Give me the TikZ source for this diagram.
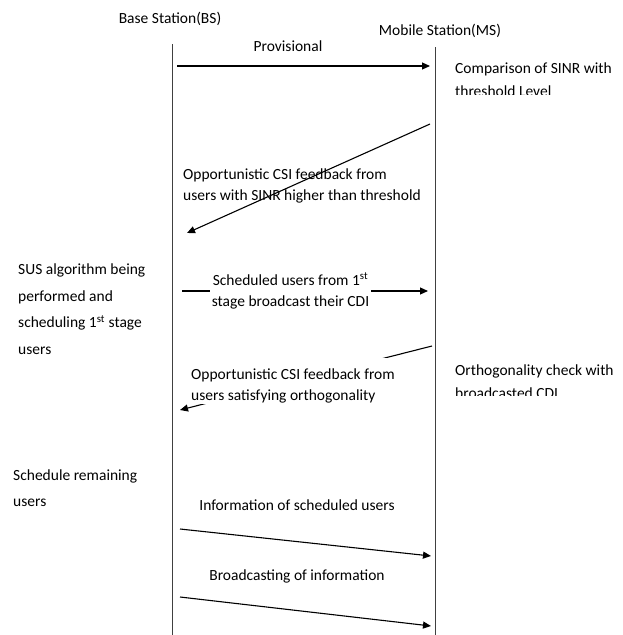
\documentclass[tikz,border=0pt]{standalone}
\usepackage{fontspec}
\setmainfont{Carlito}
\usetikzlibrary{arrows.meta}
\begin{document}
\begin{tikzpicture}[x=1pt,y=-1pt,
  lbl/.style={font=\fontsize{15.5}{21}\selectfont, inner sep=0pt, align=left},
  wide/.style={font=\fontsize{15.5}{23}\selectfont},
  life/.style={line width=0.9pt, black!75},
  msg/.style={line width=1.1pt, -{Triangle[length=8pt,width=7pt]}},
]
\useasboundingbox (0,0) rectangle (622,635);
% headers
\node[lbl] (bs) at (170,19) {Base Station(BS)};
\node[lbl] (ms) at (440,31) {Mobile Station(MS)};
% lifelines
\coordinate (bsT) at (172,44); \coordinate (bsB) at (172,635);
\coordinate (msT) at (435,47); \coordinate (msB) at (435,635);
\draw[life] (bsT) -- (bsB);
\draw[life] (msT) -- (msB);

% message 1
\node[lbl] (prov) at (288,46) {Provisional};
\coordinate (a1s) at (177,66); \coordinate (a1e) at (430,66);
\draw[msg] (a1s) -- (a1e);
\begin{scope}
\clip (445,50) rectangle (622,94.5);
\node[lbl, wide, anchor=west] (cmp) at (455,79.5) {Comparison of SINR with\\threshold Level};
\end{scope}

% message 2
\coordinate (a2s) at (430,124); \coordinate (a2e) at (187,233);
\draw[msg] (a2s) -- (a2e);
\node[lbl, anchor=west] (fb1) at (183,186) {Opportunistic CSI feedback from\\users with SINR higher than threshold};

% SUS
\node[lbl, anchor=west, font=\fontsize{15.5}{26.5}\selectfont] (sus) at (18,309) {SUS algorithm being\\performed and\\scheduling 1\textsuperscript{st} stage\\users};

% message 3
\coordinate (a3s) at (182,291); \coordinate (a3e) at (428,291);
\draw[msg] (a3s) -- (a3e);
\node[lbl, fill=white, align=center, inner xsep=2pt, minimum height=42] (sch) at (290.5,291) {Scheduled users from 1\textsuperscript{st}\\stage broadcast their CDI};

% message 4
\coordinate (a4s) at (432,346); \coordinate (a4e) at (180,410);
\draw[msg] (a4s) -- (a4e);
\fill[white] (199,358) rectangle (392,404);
\node[lbl, anchor=west] (fb2) at (191,386) {Opportunistic CSI feedback from\\users satisfying orthogonality};
\begin{scope}
\clip (445,355) rectangle (622,395.5);
\node[lbl, wide, anchor=west] (orth) at (455,381.5) {Orthogonality check with\\broadcasted CDI};
\end{scope}

% schedule remaining
\node[lbl, anchor=west, font=\fontsize{15.5}{26.5}\selectfont] (rem) at (13,488) {Schedule remaining\\users};

% message 5
\node[lbl] (info) at (297,505) {Information of scheduled users};
\coordinate (a5s) at (180,529); \coordinate (a5e) at (431,556);
\draw[msg] (a5s) -- (a5e);

% message 6
\node[lbl] (bcast) at (297,576) {Broadcasting of information};
\coordinate (a6s) at (180,597); \coordinate (a6e) at (431,626);
\draw[msg] (a6s) -- (a6e);
\end{tikzpicture}
\end{document}
